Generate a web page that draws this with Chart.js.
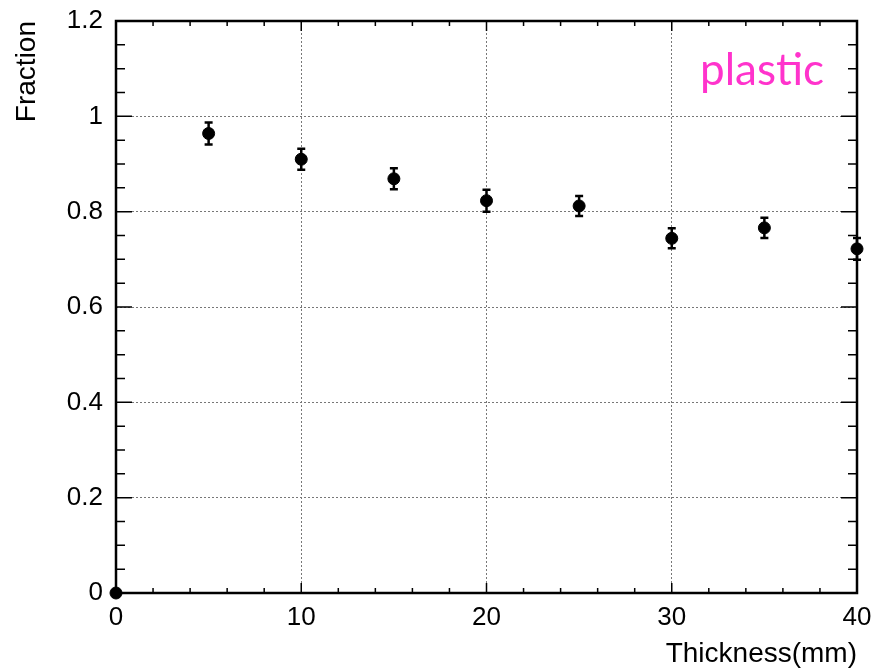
<!DOCTYPE html>
<html>
<head>
<meta charset="utf-8">
<script src="https://cdn.jsdelivr.net/npm/chart.js@4.4.0/dist/chart.umd.min.js"></script>
<style>
  body { margin: 0; background: #fff; }
  canvas { display: block; }
</style>
</head>
<body>
<canvas id="myChart" width="874" height="668"></canvas>
<script>
// thickness (mm) and measured fraction, with symmetric errors
const thickness = [0, 5, 10, 15, 20, 25, 30, 35, 40];
const fraction = [0, 0.964, 0.910, 0.869, 0.823, 0.812, 0.744, 0.766, 0.722];
const fractionErr = [0, 0.023, 0.022, 0.022, 0.023, 0.021, 0.021, 0.021, 0.023];
const labelText = 'plastic';

const points = thickness.map((t, i) => ({ x: t, y: fraction[i] }));

// ROOT style frame, ticks inside on all four sides, error bars
const rootFrame = {
    id: 'rootFrame',
    afterDatasetsDraw(chart) {
        const { ctx, chartArea: a, scales: { x, y } } = chart;
        ctx.save();

        // error bars
        ctx.strokeStyle = '#000';
        ctx.lineWidth = 2.5;
        thickness.forEach((t, i) => {
            if (!fractionErr[i]) return;
            const px = x.getPixelForValue(t);
            const top = y.getPixelForValue(fraction[i] + fractionErr[i]);
            const bot = y.getPixelForValue(fraction[i] - fractionErr[i]);
            ctx.beginPath();
            ctx.moveTo(px, top); ctx.lineTo(px, bot);
            ctx.moveTo(px - 4, top); ctx.lineTo(px + 4, top);
            ctx.moveTo(px - 4, bot); ctx.lineTo(px + 4, bot);
            ctx.stroke();
        });

        // frame
        ctx.lineWidth = 2.5;
        ctx.strokeRect(a.left, a.top, a.right - a.left, a.bottom - a.top);

        // ticks
        ctx.lineWidth = 1.5;
        ctx.beginPath();
        for (let v = 0; v <= 40.001; v += 2) {
            const px = x.getPixelForValue(v);
            const len = (Math.round(v) % 10 === 0) ? 10 : 5;
            ctx.moveTo(px, a.bottom); ctx.lineTo(px, a.bottom - len);
            ctx.moveTo(px, a.top); ctx.lineTo(px, a.top + len);
        }
        for (let k = 0; k <= 24; k++) {
            const py = y.getPixelForValue(k * 0.05);
            const len = (k % 4 === 0) ? 16 : 9;
            ctx.moveTo(a.left, py); ctx.lineTo(a.left + len, py);
            ctx.moveTo(a.right, py); ctx.lineTo(a.right - len, py);
        }
        ctx.stroke();

        // sample label
        ctx.fillStyle = '#ff33cc';
        ctx.font = '44px Lato';
        ctx.textAlign = 'left';
        ctx.textBaseline = 'alphabetic';
        ctx.fillText(labelText, 700, 85);
        ctx.restore();
    }
};

const ctx = document.getElementById('myChart').getContext('2d');
const myChart = new Chart(ctx, {
    type: 'scatter',
    data: {
        datasets: [{
            data: points,
            backgroundColor: '#000',
            borderColor: '#000',
            pointRadius: 6,
            pointHoverRadius: 6,
            clip: false
        }]
    },
    options: {
        responsive: false,
        animation: false,
        layout: { padding: { top: 21, right: 17, left: 0, bottom: 0 } },
        scales: {
            x: {
                type: 'linear',
                min: 0,
                max: 40,
                afterFit(scale) {
                    scale.height = 75;
                    scale.paddingLeft = 0;
                    scale.paddingRight = 0;
                },
                ticks: {
                    stepSize: 10,
                    padding: 9,
                    color: '#000',
                    font: { family: 'Liberation Sans', size: 26 }
                },
                grid: {
                    color: '#777',
                    lineWidth: 1,
                    drawTicks: false
                },
                border: { display: false, dash: [2, 2] },
                title: {
                    display: true,
                    text: 'Thickness(mm)',
                    align: 'end',
                    color: '#000',
                    font: { family: 'Liberation Sans', size: 28, lineHeight: 1 },
                    padding: { top: 0, bottom: 0 }
                }
            },
            y: {
                min: 0,
                max: 1.2,
                afterFit(scale) {
                    scale.width = 116;
                    scale.paddingTop = 0;
                    scale.paddingBottom = 0;
                },
                ticks: {
                    stepSize: 0.2,
                    padding: 13,
                    color: '#000',
                    font: { family: 'Liberation Sans', size: 26 },
                    callback: (v) => String(Math.round(v * 10) / 10)
                },
                grid: {
                    color: '#777',
                    lineWidth: 1,
                    drawTicks: false
                },
                border: { display: false, dash: [2, 2] },
                title: {
                    display: true,
                    text: 'Fraction',
                    align: 'end',
                    color: '#000',
                    font: { family: 'Liberation Sans', size: 28, lineHeight: 1 },
                    padding: { top: 13, bottom: 0 }
                }
            }
        },
        plugins: {
            legend: { display: false },
            tooltip: { enabled: false }
        }
    },
    plugins: [rootFrame]
});
</script>
</body>
</html>
